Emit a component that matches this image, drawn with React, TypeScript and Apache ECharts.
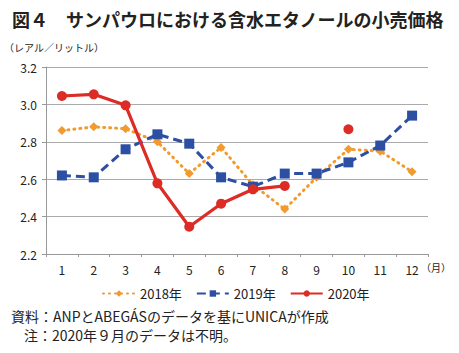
import React, { useEffect, useRef } from "react";
import * as echarts from "echarts";

const months = ["1", "2", "3", "4", "5", "6", "7", "8", "9", "10", "11", "12"];
const s2018 = [2.86, 2.88, 2.87, 2.8, 2.63, 2.77, 2.57, 2.44, 2.61, 2.76, 2.75, 2.64];
const s2019 = [2.62, 2.61, 2.76, 2.84, 2.79, 2.61, 2.56, 2.63, 2.63, 2.69, 2.78, 2.94];
const s2020 = [3.045, 3.054, 2.995, 2.578, 2.346, 2.469, 2.546, 2.564, null, 2.867, null, null];
const yTicks = ["2.2", "2.4", "2.6", "2.8", "3.0", "3.2"];

const FONT = "'Noto Sans CJK JP', 'Noto Sans', sans-serif";
const ORANGE = "#F29A2E";
const BLUE = "#2D4FA3";
const RED = "#DD2B25";

export default function App() {
  const ref = useRef<HTMLDivElement>(null);
  useEffect(() => {
    if (!ref.current) return;
    const chart = echarts.init(ref.current, undefined, { renderer: "svg" });
    chart.setOption({
      animation: false,
      backgroundColor: "#ffffff",
      textStyle: { fontFamily: FONT },
      grid: { left: 46, right: 31, top: 67, bottom: 99 },
      xAxis: {
        type: "category",
        data: months,
        boundaryGap: true,
        axisLine: { lineStyle: { color: "#999", width: 1 } },
        axisTick: { show: true, length: 3, inside: false, lineStyle: { color: "#999" } },
        axisLabel: { color: "#222", fontSize: 12, margin: 9, fontFamily: FONT },
      },
      yAxis: {
        type: "value",
        min: 2.2,
        max: 3.2,
        interval: 0.2,
        axisLine: { show: true, lineStyle: { color: "#999", width: 1 } },
        axisTick: { show: true, length: 4, lineStyle: { color: "#999" } },
        axisLabel: {
          color: "#222",
          fontSize: 12,
          margin: 9,
          fontFamily: FONT,
          formatter: (v: number) => {
            const i = Math.round((v - 2.2) / 0.2);
            return yTicks[i] ?? v.toFixed(1);
          },
        },
        splitLine: { lineStyle: { color: "#aaa", width: 1 } },
      },
      legend: {
        left: 102,
        top: 287,
        padding: 0,
        itemWidth: 32,
        itemHeight: 8,
        itemGap: 14,
        textStyle: { color: "#222", fontSize: 13, fontFamily: FONT },
        data: ["2018年", "2019年", "2020年"],
      },
      series: [
        {
          name: "2018年",
          type: "line",
          data: s2018,
          symbol: "diamond",
          symbolSize: 9,
          itemStyle: { color: ORANGE },
          lineStyle: { color: ORANGE, width: 3, type: [1, 5], cap: "round" },
          z: 2,
        },
        {
          name: "2019年",
          type: "line",
          data: s2019,
          symbol: "rect",
          symbolSize: 10,
          itemStyle: { color: BLUE },
          lineStyle: { color: BLUE, width: 3, type: [9, 5] },
          z: 3,
        },
        {
          name: "2020年",
          type: "line",
          data: s2020,
          symbol: "circle",
          symbolSize: 10,
          connectNulls: false,
          itemStyle: { color: RED },
          lineStyle: { color: RED, width: 3.2 },
          z: 4,
        },
      ],
      graphic: [
        {
          type: "text",
          left: 12,
          top: 10,
          style: {
            text: "図４　サンパウロにおける含水エタノールの小売価格",
            fontSize: 18,
            fontWeight: "bold",
            fill: "#222",
            fontFamily: FONT,
          },
        },
        {
          type: "text",
          left: 4,
          top: 42,
          style: { text: "（レアル／リットル）", fontSize: 10, fill: "#222", fontFamily: FONT },
        },
        {
          type: "text",
          left: 421,
          top: 262,
          style: { text: "（月）", fontSize: 10, fill: "#222", fontFamily: FONT },
        },
        {
          type: "text",
          left: 11,
          top: 309,
          style: {
            text: "資料：ANPとABEGÁSのデータを基にUNICAが作成",
            fontSize: 14,
            fill: "#222",
            fontFamily: FONT,
          },
        },
        {
          type: "text",
          left: 24,
          top: 328,
          style: {
            text: "注：2020年９月のデータは不明。",
            fontSize: 14,
            fill: "#222",
            fontFamily: FONT,
          },
        },
      ],
    });
    return () => chart.dispose();
  }, []);
  return <div ref={ref} style={{ width: 459, height: 353, position: "absolute", left: 0, top: 0 }} />;
}
